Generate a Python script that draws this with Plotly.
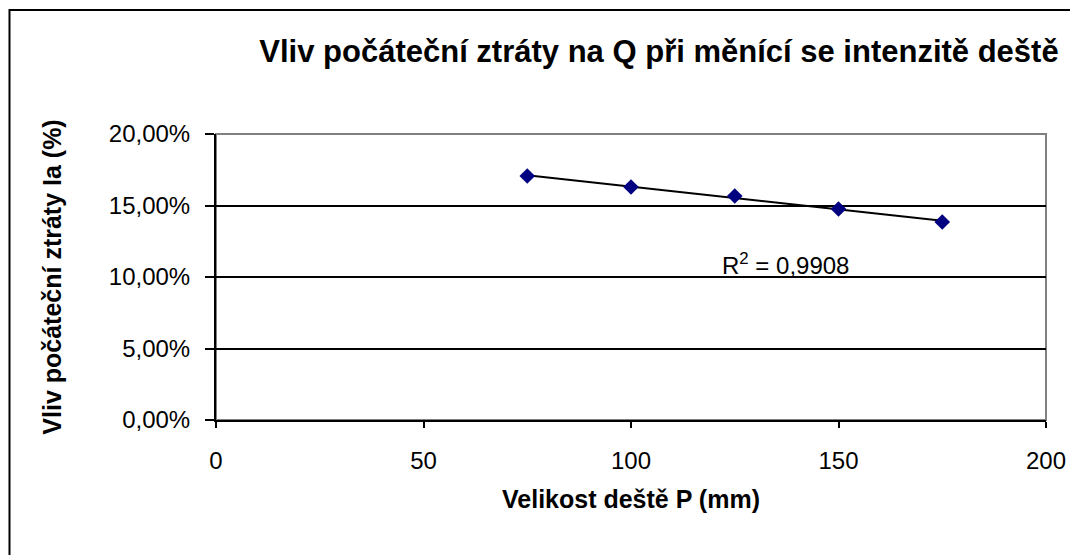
import numpy as np
import plotly.graph_objects as go

# ================================================================
# DATA
# ================================================================
RAIN_P = [75, 100, 125, 150, 175]                       # mm
IA_SHARE = [0.1706, 0.1629, 0.1566, 0.1476, 0.1385]     # share of Ia
R2_TEXT = "R<sup>2</sup> = 0,9908"

Y_TICKS = [0, 0.05, 0.10, 0.15, 0.20]
X_TICKS = [0, 50, 100, 150, 200]

TITLE = "Vliv počáteční ztráty na Q při měnící se intenzitě deště"
X_TITLE = "Velikost deště P (mm)"
Y_TITLE = "Vliv počáteční ztráty Ia (%)"

FONT = "Liberation Sans, Arial, sans-serif"

# linear trendline through the points
slope, intercept = np.polyfit(RAIN_P, IA_SHARE, 1)
trend_x = [RAIN_P[0], RAIN_P[-1]]
trend_y = [slope * x + intercept for x in trend_x]

# ================================================================
# PLOT
# ================================================================
fig = go.Figure()

fig.add_trace(go.Scatter(
    x=trend_x, y=trend_y,
    mode="lines",
    line=dict(color="black", width=2),
    showlegend=False,
    hoverinfo="skip",
))

fig.add_trace(go.Scatter(
    x=RAIN_P, y=IA_SHARE,
    mode="markers",
    marker=dict(symbol="diamond", size=12, color="#000080"),
    showlegend=False,
))

fig.add_annotation(
    x=137.3, y=0.109, xref="x", yref="y",
    text=R2_TEXT, showarrow=False,
    font=dict(family=FONT, size=24, color="black"),
)

# outer chart frame (left and top edges visible, others run off-canvas)
fig.add_shape(
    type="rect", xref="paper", yref="paper",
    x0=-0.2488, x1=1.05, y0=-0.50, y1=1.4336,
    line=dict(color="black", width=2),
    layer="below",
)

# plot-area frame in grey (top and right)
fig.add_shape(
    type="rect", xref="paper", yref="paper",
    x0=0, x1=1, y0=0, y1=1,
    line=dict(color="#808080", width=2),
    layer="below",
)

# the page body keeps an 8px margin, so the figure is 8px smaller
fig.update_layout(
    width=1070, height=547,
    margin=dict(l=208, r=26, t=126, b=135),
    paper_bgcolor="white",
    plot_bgcolor="white",
    separators=", ",
    font=dict(family=FONT, size=24, color="black"),
    title=dict(
        text=f"<b>{TITLE}</b>",
        x=0.6084, xanchor="center",
        y=0.922, yanchor="middle",
        font=dict(family=FONT, size=31, color="black"),
    ),
    xaxis=dict(
        range=[0, 200],
        tickvals=X_TICKS,
        ticks="outside", ticklen=6, tickcolor="black", tickwidth=2,
        ticklabelstandoff=12,
        showline=True, linecolor="black", linewidth=2,
        showgrid=False, zeroline=False,
        title=dict(text=f"<b>{X_TITLE}</b>", font=dict(size=25), standoff=18),
    ),
    yaxis=dict(
        range=[0, 0.20],
        tickvals=Y_TICKS,
        tickformat=".2%",
        ticks="outside", ticklen=9, tickcolor="black", tickwidth=2,
        ticklabelstandoff=10,
        showline=True, linecolor="black", linewidth=2,
        showgrid=True, gridcolor="black", gridwidth=2,
        zeroline=False,
        title=dict(text=f"<b>{Y_TITLE}</b>", font=dict(size=25), standoff=40),
    ),
)

fig.write_html("out.html")
